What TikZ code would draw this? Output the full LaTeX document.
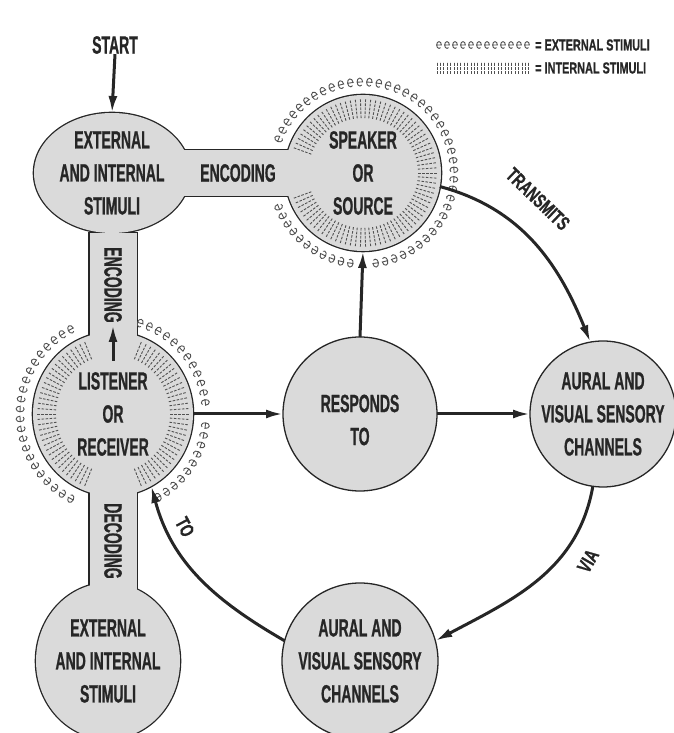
\documentclass[tikz,border=0pt]{standalone}
\usepackage{fontspec}
\newfontfamily\condA{Liberation Sans}[FakeStretch=0.56,FakeBold=0.8]
\newfontfamily\condB{Liberation Sans}[FakeStretch=0.68,FakeBold=0.8]
\usetikzlibrary{arrows.meta,shapes.geometric,calc}
\definecolor{ink}{HTML}{262626}
\definecolor{tone}{HTML}{DADADA}

\tikzset{
  lbl/.style={font=\condA\bfseries\fontsize{25}{33}\selectfont, text=ink, align=center, inner sep=0pt},
  arclbl/.style={font=\condB\bfseries\fontsize{20}{24}\selectfont, text=ink, inner sep=0pt},
  legtxt/.style={font=\condB\bfseries\fontsize{16}{18}\selectfont, text=ink, inner sep=0pt, anchor=west},
  blob/.style={ellipse, inner sep=0pt, outer sep=0pt},
  rim/.style={draw=ink, line width=2.6pt},
  body/.style={fill=tone},
  conn/.style={draw=ink, line width=3pt, -{Latex[length=17pt,width=9pt]}},
  intmark/.style={draw=ink!80, line width=0.9pt, dash pattern=on 2.6pt off 1.4pt},
  emark/.pic={\draw[ink!80, line width=0.9pt] (-2.8,0) -- (2.8,0)
      arc[start angle=0, end angle=310, x radius=2.8, y radius=4];},
}

\begin{document}
\begin{tikzpicture}[x=1pt,y=1pt]
\useasboundingbox (0,0) rectangle (674,733);

% shape nodes (borders used by the connectors)
\node[blob, minimum width=156pt, minimum height=120pt] (tl) at (112,560) {};
\node[blob, minimum width=156pt, minimum height=156pt] (sp) at (363,560) {};
\node[blob, minimum width=160pt, minimum height=164pt] (li) at (113,319) {};
\node[blob, minimum width=154pt, minimum height=154pt] (re) at (360,319) {};
\node[blob, minimum width=146pt, minimum height=146pt] (ar) at (603,319) {};
\node[blob, minimum width=144pt, minimum height=156pt] (bl) at (108,72) {};
\node[blob, minimum width=156pt, minimum height=156pt] (ab) at (360,72) {};

% joined stimulus body: outlines first, fills on top leave only the outer edge
\foreach \st in {rim,body}{
  \path[\st] (tl.center) ellipse[x radius=78, y radius=60];
  \path[\st] (sp.center) ellipse[x radius=78, y radius=78];
  \path[\st] (li.center) ellipse[x radius=80, y radius=82];
  \path[\st] (bl.center) ellipse[x radius=72, y radius=78];
  \path[\st] (140,537) rectangle (320,583);
  \path[\st] (89.5,500) rectangle (136.5,120);
}

% separate circles
\foreach \n/\r in {re/77, ar/73, ab/78}{
  \path[draw=ink, line width=1.3pt, fill=tone] (\n.center) circle[radius=\r];
}

% internal stimuli: radial strokes just inside the rim
\foreach \a in {-160,-156,...,160}{
  \draw[intmark] ($(sp.center)+(\a:55)$) -- ($(sp.center)+(\a:74)$);
}
\foreach \a in {-68,-64,...,68,112,116,...,248}{
  \draw[intmark] ($(li.center)+(\a:57 and 59)$) -- ($(li.center)+(\a:76 and 78)$);
}

% external stimuli: ring of small marks outside the rim
\foreach \a in {-158,-152,...,-98,-82,-76,...,160}{
  \path ($(sp.center)+(\a:91)$) pic[rotate=\a-90] {emark};
}
\foreach \a in {-61,-55,...,-7,7,13,...,73,117,123,...,243}{
  \path ($(li.center)+(\a:93 and 95)$) pic[rotate=\a-90] {emark};
}

% legend
\foreach \i in {0,...,11}{
  \path (439+\i*8,688) pic[scale=0.85] {emark};
}
\foreach \i in {0,...,27}{
  \draw[intmark] (437+\i*3.4,659) -- (437+\i*3.4,671);
}
\node[legtxt] (legext) at (535,688) {= EXTERNAL STIMULI};
\node[legtxt] (legint) at (535,665) {= INTERNAL STIMULI};

% labels
\node[lbl] (start) at (115,688) {START};
\node[lbl] (tlt) at (tl) {EXTERNAL\\AND INTERNAL\\STIMULI};
\node[lbl] (spt) at (sp) {SPEAKER\\OR\\SOURCE};
\node[lbl] (lit) at (li) {LISTENER\\OR\\RECEIVER};
\node[lbl] (ret) at ($(re)+(0,-6)$) {RESPONDS\\TO};
\node[lbl] (art) at (ar) {AURAL AND\\VISUAL SENSORY\\CHANNELS};
\node[lbl] (blt) at (bl) {EXTERNAL\\AND INTERNAL\\STIMULI};
\node[lbl] (abt) at (ab) {AURAL AND\\VISUAL SENSORY\\CHANNELS};
\node[lbl] (ench) at (238,560) {ENCODING};
\node[lbl, rotate=-90] (encv) at (113,448) {ENCODING};
\node[lbl, rotate=-90] (decv) at (113,192) {DECODING};
\node[arclbl, rotate=-44] (trans) at (538,534) {TRANSMITS};
\node[arclbl, rotate=60] (via) at (588,172) {VIA};
\node[arclbl, rotate=-62] (to) at (185,206) {TO};

% connectors
\coordinate (enctail) at (113,372);
\coordinate (enctip) at (113,408);
\draw[conn] (start.south) -- (tl.north);
\draw[conn] (enctail) -- (enctip);
\draw[conn] (li.east) -- (re.west);
\draw[conn] (re.east) -- (ar.west);
\draw[conn] (re.north) -- (sp.south);
\draw[conn] (sp.-10) to[out=-15, in=112] (ar.100);
\draw[conn] (ar.-98) to[out=-100, in=28] (ab.15);
\draw[conn] (ab.165) to[out=150, in=-75] (li.-62);
\end{tikzpicture}
\end{document}
